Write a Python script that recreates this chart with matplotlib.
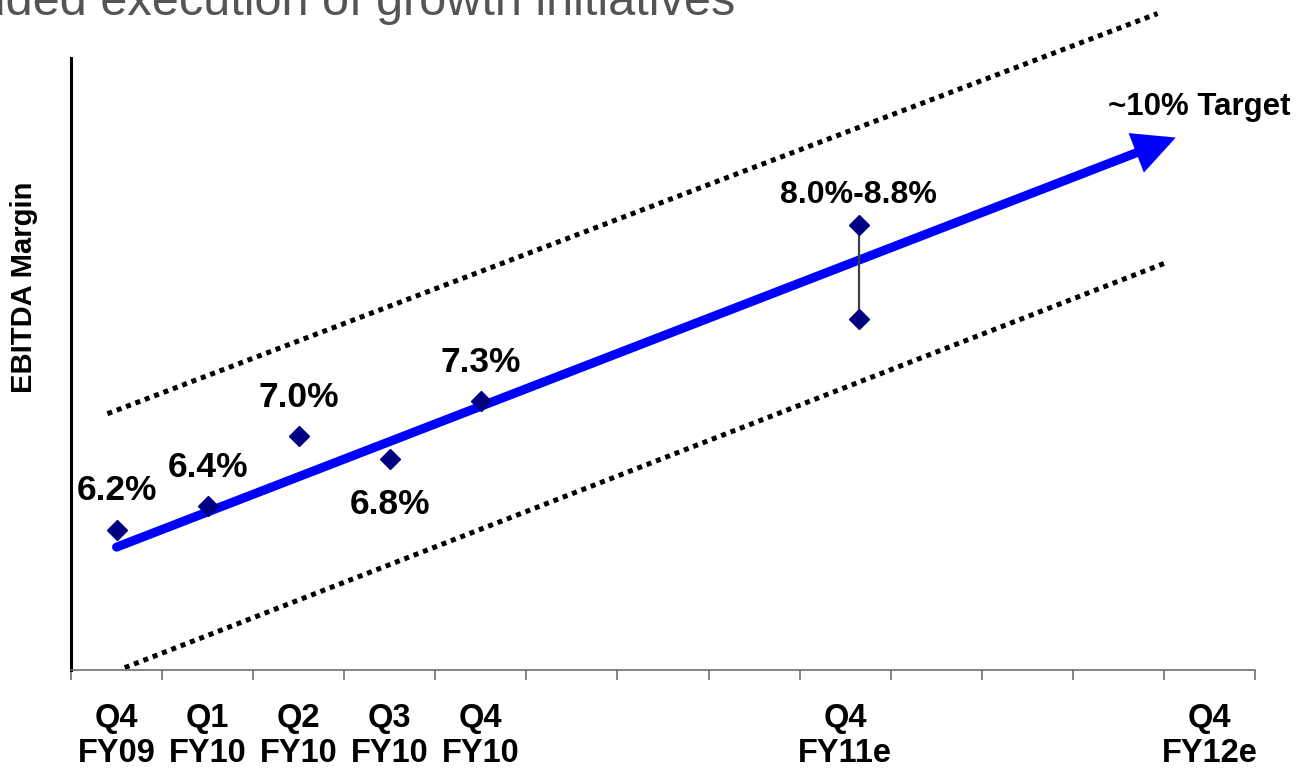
"""
    EBITDA margin progression toward the ~10% target
"""

import matplotlib
matplotlib.use('AGG')
import matplotlib.pyplot as plt

# quarter slots along the x axis, one per tick interval
periods = ['Q4\nFY09', 'Q1\nFY10', 'Q2\nFY10', 'Q3\nFY10', 'Q4\nFY10',
           '', '', '', 'Q4\nFY11e', '', '', '', 'Q4\nFY12e']

# reported quarterly margins (%)
actual_idx = [0, 1, 2, 3, 4]
actual_margin = [6.2, 6.4, 7.0, 6.8, 7.3]
actual_text = ['6.2%', '6.4%', '7.0%', '6.8%', '7.3%']
label_below = [False, False, False, True, False]

# FY11 guidance range (%)
guide_x = 8.65
guide_low = 8.0
guide_high = 8.8

# trend arrow and the dotted band around it
trend_x = [0.5, 12.13]
trend_y = [6.05, 9.55]
upper_x = [0.40, 11.93]
upper_y = [7.19, 10.61]
lower_x = [0.59, 12.02]
lower_y = [5.02, 8.48]

FONT = ['Liberation Sans', 'DejaVu Sans']


def main():
    plt.rcParams['font.family'] = FONT

    fig = plt.figure(figsize=(12.97, 7.71), dpi=100)
    W, H = 1297.0, 771.0
    ax = fig.add_axes([71 / W, 101 / H, 1184 / W, 612 / H])

    ax.set_xlim(0, len(periods))
    ax.set_ylim(5.0, 10.23)

    # dotted band
    for bx, by in ((upper_x, upper_y), (lower_x, lower_y)):
        ax.plot(bx, by, color='black', lw=3.6, linestyle=(0, (1, 1)),
                dash_capstyle='butt', clip_on=False, zorder=2)

    # trend arrow
    ax.annotate('', xy=(trend_x[1], trend_y[1]), xytext=(trend_x[0], trend_y[0]),
                arrowprops=dict(arrowstyle='-|>,head_length=1.0,head_width=0.5',
                                color='#0000ff', lw=6.5, mutation_scale=20,
                                shrinkA=0, shrinkB=0, joinstyle='miter'),
                annotation_clip=False, zorder=3)
    ax.text(1199 / W, 1 - 115 / H, '~10% Target', transform=fig.transFigure,
            ha='center', va='baseline', fontsize=22.5, fontweight='bold')

    # guidance range
    ax.plot([guide_x, guide_x], [guide_low, guide_high], color='#404040',
            lw=1.6, zorder=4)
    ax.plot([guide_x, guide_x], [guide_low, guide_high], linestyle='none',
            marker='D', ms=10, color='#000080', zorder=5)
    ax.annotate('%.1f%%-%.1f%%' % (guide_low, guide_high), (guide_x, guide_high),
                xytext=(0, 16), textcoords='offset points', ha='center',
                va='baseline', fontsize=23, fontweight='bold')

    # actual quarters
    xs = [i + 0.5 for i in actual_idx]
    ax.plot(xs, actual_margin, linestyle='none', marker='D', ms=10,
            color='#000080', zorder=5)
    for x, v, t, below in zip(xs, actual_margin, actual_text, label_below):
        dy = -39 if below else 21
        ax.annotate(t, (x, v), xytext=(0, dy), textcoords='offset points',
                    ha='center', va='baseline', fontsize=25.5, fontweight='bold')

    # axes styling
    for s in ('top', 'right'):
        ax.spines[s].set_visible(False)
    ax.spines['left'].set_linewidth(2.2)
    ax.spines['left'].set_color('black')
    ax.spines['bottom'].set_linewidth(1.2)
    ax.spines['bottom'].set_color('#6e6e6e')
    ax.set_yticks([])

    ax.set_xticks(range(len(periods) + 1))
    ax.set_xticklabels([])
    ax.tick_params(axis='x', which='major', length=7.5, width=1.2,
                   color='#6e6e6e', direction='out')
    ax.set_xticks([i + 0.5 for i in range(len(periods))], minor=True)
    ax.set_xticklabels(periods, minor=True, fontsize=23.5, fontweight='bold',
                       linespacing=1.2)
    ax.tick_params(axis='x', which='minor', length=0, pad=23.5)

    ax.set_ylabel('EBITDA Margin', fontsize=21, fontweight='bold')
    ax.yaxis.set_label_coords(-33 / 1184, (670 - 287) / 612)

    # slide heading, running off the top-left corner
    fig.text(735 / W, 1 - 15 / H, 'Included execution of growth initiatives',
             ha='right', va='baseline', fontsize=35, color='#545454')

    fig.savefig('out.png', dpi=100)


if __name__ == '__main__':
    main()
